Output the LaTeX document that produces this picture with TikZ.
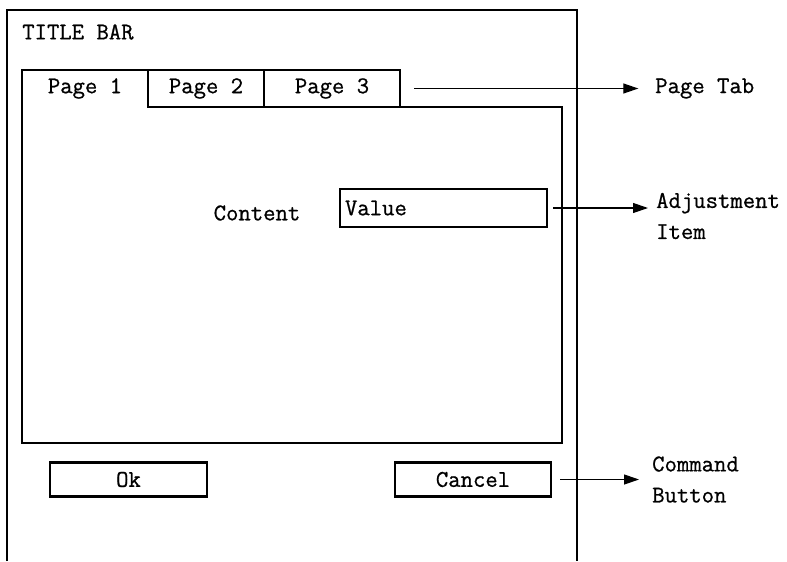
\documentclass[tikz,border=0pt]{standalone}
\usepackage{fontspec}
\newfontfamily\uifont{Latin Modern Mono}[FakeBold=0.8]
\usetikzlibrary{arrows.meta, positioning, calc}

\begin{document}
\begin{tikzpicture}[x=0.03cm, y=-0.03cm,
  txt/.style={font=\uifont\fontsize{20.5}{26.5}\selectfont, inner sep=0pt},
  tabbox/.style={txt, draw, line width=2pt, minimum height=1.11cm},
  btnbox/.style={txt, draw, line width=2pt, minimum height=1.02cm},
  note/.style={txt, anchor=west, align=left},
  pointer/.style={line width=1pt, -{Triangle[length=0.45cm, width=0.3cm]}}]
\useasboundingbox (0,0) rectangle (787,561);
% window frame, open at the bottom
\draw[line width=1.5pt] (7,561) -- (7,10) -- (577,10) -- (577,561);
\node[txt, anchor=west] (title) at (22,32) {TITLE BAR};
% page with its tabs
\draw[line width=2pt] (22,443) -- (22,70) -- (148,70) -- (148,107) -- (562,107) -- (562,443) -- cycle;
\node[txt] (p1) at (85,88.5) {Page 1};
\node[tabbox, minimum width=3.48cm] (p2) at (206,88.5) {Page 2};
\node[tabbox, minimum width=4.08cm] (p3) at (332,88.5) {Page 3};
% adjustment item
\node[txt] (content) at (257,213) {Content};
\node[btnbox, minimum height=1.14cm, text width=5.91cm, inner xsep=0.15cm, align=left] (value) at (443.5,208) {Value};
% command buttons
\node[btnbox, minimum width=4.71cm] (ok) at (128.5,479.5) {Ok};
\node[btnbox, minimum width=4.68cm] (cancel) at (473,479.5) {Cancel};
% notes on the right
\node[note] (tabnote) at (655,88.5) {Page Tab};
\node[note] (adjnote) at (656,216) {Adjustment\\Item};
\node[note] (cmdnote) at (652,479.5) {Command\\Button};
\draw[pointer] ([xshift=0.39cm]p3.east) -- ([xshift=-0.5cm]tabnote.west);
\draw[pointer] ([xshift=0.15cm]value.east) -- ([xshift=-0.24cm]value.east -| adjnote.west);
\draw[pointer] ([xshift=0.24cm]cancel.east) -- ([xshift=-0.39cm]cmdnote.west);
\end{tikzpicture}
\end{document}
